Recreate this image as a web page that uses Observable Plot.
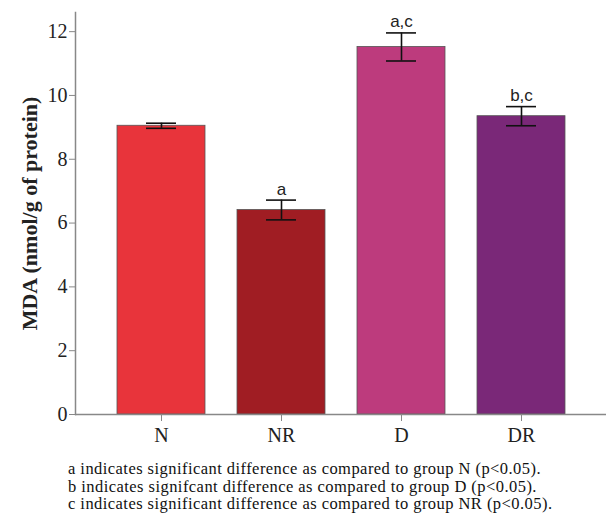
<!DOCTYPE html>
<html>
<head>
<meta charset="utf-8">
<script src="https://cdn.jsdelivr.net/npm/d3@7"></script>
<script src="https://cdn.jsdelivr.net/npm/@observablehq/plot@0.6"></script>
<style>
  body { margin: 0; background: #fff; }
  #chart { width: 608px; }
  #chart .note { font-family: "Liberation Serif", "Times New Roman", serif; font-size: 16.5px; line-height: 17.5px; letter-spacing: 0.45px; color: #111; margin-left: 68px; margin-top: 5px; white-space: nowrap; }
</style>
</head>
<body>
<div id="chart"></div>
<script>
const groups = ["N", "NR", "D", "DR"];
const means = [9.05, 6.41, 11.52, 9.35];
const errors = [0.08, 0.31, 0.44, 0.30];
const labels = ["", "a", "a,c", "b,c"];
const colors = ["#E8343B", "#A01D23", "#BD3B7D", "#7A2878"];
const yTicks = [0, 2, 4, 6, 8, 10, 12];
const yLabel = "MDA (nmol/g of protein)";
const notes = [
  "a indicates significant difference as compared to group N (p<0.05).",
  "b indicates signifcant difference as compared to group D (p<0.05).",
  "c indicates significant difference as compared to group NR (p<0.05)."
];

const serif = "Liberation Serif, Times New Roman, serif";
const data = groups.map((g, i) => ({group: g, mean: means[i], err: errors[i], label: labels[i], color: colors[i]}));

const plot = Plot.plot({
  width: 608,
  height: 455,
  marginLeft: 75,
  marginRight: 2,
  marginTop: 12,
  marginBottom: 41,
  style: {fontFamily: serif, background: "#fff"},
  x: {domain: groups, paddingInner: 0.27, paddingOuter: 0.33, label: null},
  y: {domain: [0, 12.6], label: null},
  marks: [
    Plot.barY(data, {x: "group", y: "mean", fill: "color", stroke: "#555", strokeWidth: 0.8}),
    Plot.ruleX(data, {x: "group", y1: d => d.mean - d.err, y2: d => d.mean + d.err, stroke: "#111", strokeWidth: 1.6}),
    Plot.tickY(data, {x: "group", y: d => d.mean - d.err, stroke: "#111", strokeWidth: 1.6, insetLeft: 29, insetRight: 29}),
    Plot.tickY(data, {x: "group", y: d => d.mean + d.err, stroke: "#111", strokeWidth: 1.6, insetLeft: 29, insetRight: 29}),
    Plot.text(data, {x: "group", y: d => d.mean + d.err, text: "label", dy: -11, fontFamily: "Liberation Sans, Arial, sans-serif", fontSize: 17, fill: "#222"}),
    Plot.ruleY([0], {stroke: "#888", strokeWidth: 1.5}),
    Plot.frame({anchor: "left", stroke: "#888", strokeWidth: 1.5}),
    Plot.axisY({ticks: yTicks, tickSize: 6, tickFormat: d => d, fontSize: 20, fontFamily: serif, stroke: "#888", color: "#222", label: null, tickPadding: 2}),
    Plot.axisX({tickSize: 7, fontSize: 20, fontFamily: serif, stroke: "#888", color: "#222", label: null, tickPadding: 6}),
    Plot.text([yLabel], {frameAnchor: "left", dx: -46, rotate: -90, text: d => d, fontSize: 22, fontWeight: "bold", fontFamily: serif, fill: "#222", textAnchor: "middle"})
  ]
});
document.getElementById("chart").appendChild(plot);
const nd = document.createElement("div");
nd.className = "note";
nd.innerHTML = notes.map(n => n.replace(/</g, "&lt;")).join("<br>");
document.getElementById("chart").appendChild(nd);
</script>
</body>
</html>
